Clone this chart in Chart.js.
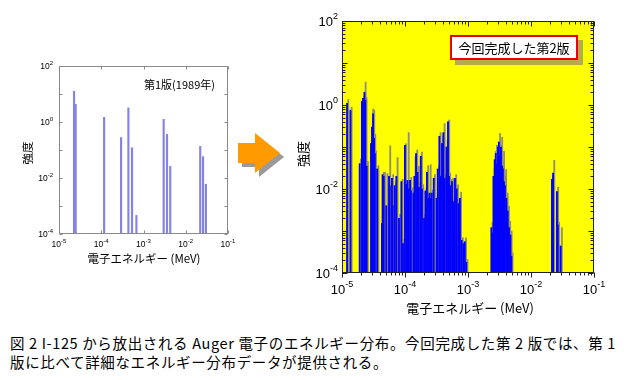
<!DOCTYPE html>
<html><head><meta charset="utf-8">
<script src="https://cdn.jsdelivr.net/npm/chart.js@4/dist/chart.umd.min.js"></script>
<style>
html,body{margin:0;padding:0;background:#fff;width:626px;height:380px;overflow:hidden;position:relative;font-family:"Noto Sans CJK JP",sans-serif;}
#c1{position:absolute;left:0;top:0;}
#c2{position:absolute;left:280px;top:0;}
#arrow{position:absolute;left:230px;top:125px;}
#box{position:absolute;left:450px;top:35px;width:124px;height:21px;border:2px solid #e60012;background:#fff;box-shadow:5px 5px 0 #b4ac48;font-size:13px;line-height:21px;text-align:center;color:#000;}
#lbl1{position:absolute;left:144px;top:76px;font-size:11px;line-height:16px;color:#000;white-space:nowrap;}
#cap{position:absolute;left:10px;top:333px;font-size:14.5px;line-height:19px;color:#000;white-space:nowrap;}
#cap span{display:block;}
</style></head>
<body>
<canvas id="c1" width="250" height="300"></canvas>
<canvas id="c2" width="346" height="325"></canvas>
<svg id="arrow" width="56" height="56" viewBox="0 0 56 56">
  <polygon points="10,20 27,20 27,10 52,30 27,50 27,40 10,40" fill="#9a9a9a" transform="translate(2,2)"/>
  <polygon points="8,18 25,18 25,8 50,28 25,48 25,38 8,38" fill="#ff9a00"/>
</svg>
<div id="box">今回完成した第2版</div>
<div id="lbl1">第1版(1989年)</div>
<div id="cap"><span id="line1">図 2 I-125 から放出される Auger 電子のエネルギー分布。今回完成した第 2 版では、第 1</span><span id="line2">版に比べて詳細なエネルギー分布データが提供される。</span></div>
<script>
// ---- data ----
const xTickExponents = [-5, -4, -3, -2, -1];
const yTickExponents = [-4, -2, 0, 2];

// First edition (1989)
const oldEnergies = [2.27e-5, 2.48e-5, 1.17e-4, 2.95e-4, 4.39e-4, 5.35e-4, 6.8e-4, 3.0e-3, 3.6e-3, 4.3e-3, 2.2e-2, 2.57e-2, 3.0e-2];
const oldIntensities = [12.5, 4.3, 1.47, 0.28, 3.2, 0.12, 4.6e-4, 1.25, 0.36, 0.026, 0.135, 0.058, 0.006];

// Second edition
const newEnergies = [
 1.23e-5, 1.39e-5, 1.95e-5, 2.12e-5, 2.2e-5, 2.32e-5, 2.4e-5, 2.52e-5, 2.95e-5, 3.06e-5,
 3.18e-5, 3.3e-5, 3.4e-5, 3.7e-5, 4.4e-5, 4.5e-5, 4.7e-5, 5.15e-5, 5.7e-5, 5.85e-5,
 6.35e-5, 6.5e-5, 7.0e-5, 7.46e-5, 8.2e-5, 8.95e-5, 9.5e-5, 1.02e-4, 1.08e-4, 1.12e-4,
 1.17e-4, 1.23e-4, 1.27e-4, 1.39e-4, 1.44e-4, 1.53e-4, 1.62e-4, 1.7e-4, 1.82e-4, 1.9e-4,
 2.05e-4, 2.15e-4, 2.28e-4, 2.4e-4, 2.5e-4, 2.59e-4, 2.71e-4, 2.92e-4, 3.24e-4, 3.38e-4,
 3.59e-4, 3.72e-4, 3.95e-4, 4.16e-4, 4.36e-4, 4.65e-4, 4.92e-4, 5.1e-4, 5.37e-4, 5.7e-4,
 6.0e-4, 6.35e-4, 6.76e-4, 7.2e-4, 7.6e-4, 8.1e-4, 8.6e-4, 9.1e-4, 9.6e-4,
 2.4e-3, 2.5e-3, 2.59e-3, 2.71e-3, 2.82e-3, 2.95e-3, 3.06e-3, 3.16e-3, 3.29e-3, 3.41e-3,
 3.55e-3, 3.66e-3, 3.8e-3, 3.94e-3, 4.16e-3, 4.36e-3, 4.57e-3, 4.82e-3, 4.99e-3,
 2.2e-2, 2.29e-2, 2.64e-2, 2.72e-2, 3.02e-2
];
const newGray = [
 1.35, 0.88, 0.052, 1.35, 1.6, 3.5, 1.5, 0.045, 0.16, 0.8,
 0.75, 0.2, 0.08, 0.036, 0.0018, 0.025, 0.025, 0.023, 0.107, 0.014,
 0.022, 0.005, 0.015, 0.056, 0.0025, 0.017, 0.00063, 0.12, 0.015, 0.22,
 0.0126, 0.019, 0.0107, 0.01, 0.059, 0.085, 0.035, 0.0138, 0.076, 0.0126,
 0.0025, 0.0107, 0.036, 0.0071, 0.038, 0.0073, 0.0095, 0.022, 0.0081, 0.035,
 0.22, 0.026, 0.18, 0.36, 0.022, 0.148, 0.44, 0.024, 0.017, 0.018,
 0.0063, 0.022, 0.0126, 0.0056, 0.0084, 0.00069, 0.00057, 0.00069, 0.00021,
 0.0016, 0.0011, 0.032, 0.079, 0.11, 0.059, 0.134, 0.21, 0.11, 0.17,
 0.05, 0.079, 0.02, 0.029, 0.008, 0.0039, 0.0017, 0.001, 0.0003,
 0.02, 0.048, 0.011, 0.0016, 0.0012
];
const newBlue = [
 1.1, 0.75, 0.04, 1.2, 1.45, 2.0, 1.3, 0.035, 0.12, 0.3,
 0.62, 0.16, 0.07, 0.03, 0.0015, 0.022, 0.02, 0.004, 0.02, 0.012,
 0.018, 0.004, 0.012, 0.02, 0.002, 0.015, 0.0005, 0.11, 0.013, 0.016,
 0.01, 0.016, 0.009, 0.008, 0.02, 0.07, 0.025, 0.011, 0.06, 0.01,
 0.002, 0.009, 0.025, 0.006, 0.008, 0.006, 0.008, 0.018, 0.006, 0.03,
 0.18, 0.02, 0.12, 0.22, 0.018, 0.1, 0.4, 0.02, 0.012, 0.015,
 0.005, 0.018, 0.01, 0.0045, 0.006, 0.0006, 0.0005, 0.00055, 0.00018,
 0.0012, 0.0009, 0.02, 0.05, 0.07, 0.04, 0.1, 0.13, 0.06, 0.1,
 0.035, 0.03, 0.015, 0.012, 0.006, 0.003, 0.0012, 0.0008, 0.00025,
 0.017, 0.024, 0.0087, 0.0014, 0.00044
];

// ---- drawing helpers ----
function drawPow(ctx, exp, x, y, align, big, small, raise) {
  ctx.font = big + 'px "Liberation Sans", Arial, sans-serif';
  const w1 = ctx.measureText('10').width;
  const es = String(exp);
  ctx.font = small + 'px "Liberation Sans", Arial, sans-serif';
  const w2 = ctx.measureText(es).width;
  let start = align === 'center' ? x - (w1 + w2) / 2 : x - (w1 + w2);
  ctx.textAlign = 'left';
  ctx.textBaseline = 'alphabetic';
  ctx.font = big + 'px "Liberation Sans", Arial, sans-serif';
  ctx.fillText('10', start, y);
  ctx.font = small + 'px "Liberation Sans", Arial, sans-serif';
  ctx.fillText(es, start + w1, y - raise);
}

const decoPlugin = {
  id: 'deco',
  beforeDraw(chart, args, o) {
    const a = chart.chartArea, ctx = chart.ctx;
    if (o.bg) { ctx.save(); ctx.fillStyle = o.bg; ctx.fillRect(a.left, a.top, a.right - a.left, a.bottom - a.top); ctx.restore(); }
  },
  afterDraw(chart, args, o) {
    const a = chart.chartArea, ctx = chart.ctx;
    const xs = chart.scales.x, ys = chart.scales.y;
    ctx.save();
    ctx.strokeStyle = o.frame; ctx.lineWidth = 1;
    ctx.strokeRect(Math.round(a.left) + 0.5, Math.round(a.top) + 0.5, Math.round(a.right - a.left) - 1, Math.round(a.bottom - a.top) - 1);
    ctx.strokeStyle = o.tickColor;
    const L = Math.round(a.left) + 0.5, R = Math.round(a.right) - 0.5, T = Math.round(a.top) + 0.5, B = Math.round(a.bottom) - 0.5;
    ctx.beginPath();
    for (let e = o.xMin; e <= o.xMax; e++) {
      const ks = (e < o.xMax && o.minor) ? [1,2,3,4,5,6,7,8,9] : [1];
      for (const k of ks) {
        const px = Math.round(xs.getPixelForValue(k * Math.pow(10, e))) + 0.5;
        const len = k === 1 ? o.major : o.minorLen;
        ctx.moveTo(px, B); ctx.lineTo(px, B + (o.bottomOut ? len : -len));
        ctx.moveTo(px, T); ctx.lineTo(px, T + len);
      }
    }
    for (let e = o.yMin; e <= o.yMax; e++) {
      const ks = (e < o.yMax && o.minor) ? [1,2,3,4,5,6,7,8,9] : [1];
      for (const k of ks) {
        const py = Math.round(ys.getPixelForValue(k * Math.pow(10, e))) + 0.5;
        const len = k === 1 ? o.major : o.minorLen;
        ctx.moveTo(L, py); ctx.lineTo(L + len, py);
        ctx.moveTo(R, py); ctx.lineTo(R - len, py);
      }
    }
    ctx.stroke();
    ctx.fillStyle = '#000';
    for (const e of xTickExponents) {
      drawPow(ctx, e, xs.getPixelForValue(Math.pow(10, e)), a.bottom + o.xLabelDy, 'center', o.big, o.small, o.raise);
    }
    for (const e of yTickExponents) {
      drawPow(ctx, e, a.left - o.yLabelDx, ys.getPixelForValue(Math.pow(10, e)) + o.yLabelDy, 'right', o.big, o.small, o.raise);
    }
    ctx.font = o.titleSize + 'px "Noto Sans CJK JP", sans-serif';
    ctx.textAlign = 'center'; ctx.textBaseline = 'middle';
    ctx.fillText(o.xTitle, o.xTitlePos[0], o.xTitlePos[1]);
    ctx.translate(o.yTitlePos[0], o.yTitlePos[1]);
    ctx.rotate(-Math.PI / 2);
    ctx.fillText(o.yTitle, 0, 0);
    ctx.restore();
  }
};

const common = (pad) => ({
  responsive: false, animation: false, devicePixelRatio: 1,
  layout: { padding: pad },
  scales: {
    x: { type: 'logarithmic', min: 1e-5, max: 1e-1, display: false },
    y: { type: 'logarithmic', min: 1e-4, max: 1e2, display: false }
  }
});

// Left chart
const opt1 = common({ left: 59, top: 66, right: 22, bottom: 66 });
opt1.plugins = {
  legend: { display: false }, tooltip: { enabled: false },
  deco: { bg: null, frame: '#8a8a8a', tickColor: '#8a8a8a', xMin: -5, xMax: -1, yMin: -4, yMax: 2, minor: false,
    major: 3, minorLen: 2, bottomOut: false, xLabelDy: 13, yLabelDx: 6, yLabelDy: 3, big: 8.5, small: 6, raise: 4,
    xTitle: '電子エネルギー (MeV)', xTitlePos: [144, 259], yTitle: '強度', yTitlePos: [28, 153], titleSize: 11.5 }
};
new Chart(document.getElementById('c1'), {
  type: 'bar',
  data: { datasets: [{ data: oldEnergies.map((e, i) => ({ x: e, y: oldIntensities[i] })), backgroundColor: '#8484e6', barThickness: 1.5, borderWidth: 0 }] },
  options: opt1,
  plugins: [decoPlugin]
});

// Right chart
const opt2 = common({ left: 62, top: 21, right: 32, bottom: 52 });
opt2.plugins = {
  legend: { display: false }, tooltip: { enabled: false },
  deco: { bg: '#ffff00', frame: '#222', tickColor: '#222', xMin: -5, xMax: -1, yMin: -4, yMax: 2, minor: true,
    major: 5, minorLen: 3, bottomOut: true, xLabelDy: 21, yLabelDx: 4, yLabelDy: 5, big: 13, small: 9, raise: 7,
    xTitle: '電子エネルギー (MeV)', xTitlePos: [190, 308], yTitle: '強度', yTitlePos: [23, 154], titleSize: 13 }
};
new Chart(document.getElementById('c2'), {
  type: 'bar',
  data: { datasets: [
    { data: newEnergies.map((e, i) => ({ x: e, y: newBlue[i] })), backgroundColor: '#0000ff', barThickness: 1.2, borderWidth: 0 },
    { data: newEnergies.map((e, i) => ({ x: e, y: newGray[i] })), backgroundColor: '#8f8f7a', barThickness: 1.2, borderWidth: 0 }
  ] },
  options: opt2,
  plugins: [decoPlugin]
});

// fit caption first line width
(function(){
  const l1 = document.getElementById('line1');
  const w = l1.getBoundingClientRect().width;
  const n = l1.textContent.length;
  const ls = (606 - w) / n;
  document.getElementById('cap').style.letterSpacing = ls + 'px';
})();
</script>
</body></html>
